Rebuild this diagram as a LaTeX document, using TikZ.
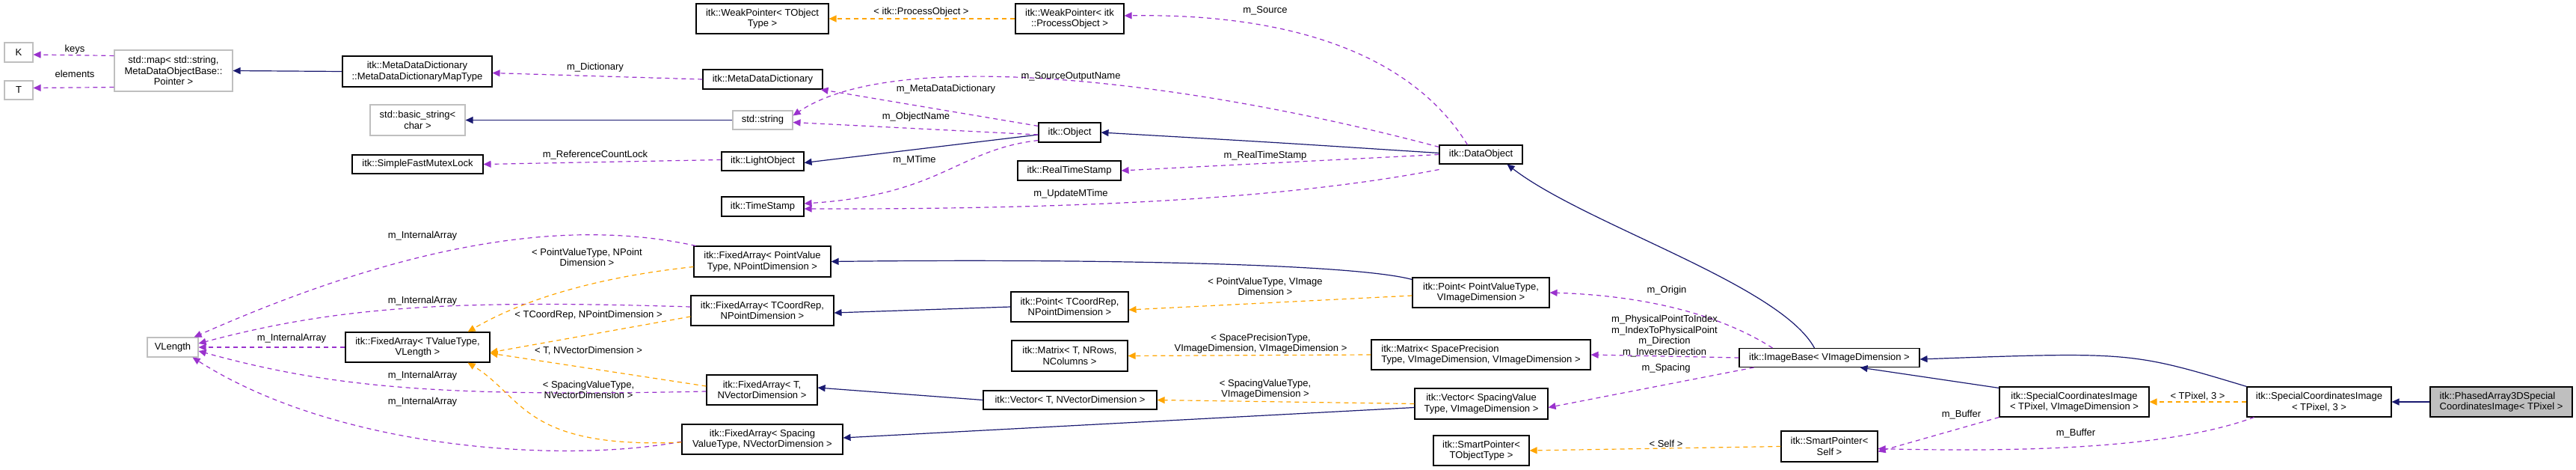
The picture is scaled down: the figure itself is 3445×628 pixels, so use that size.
\documentclass[tikz,border=0pt]{standalone}
\usepackage{fontspec}
\setmainfont{Liberation Sans}
\usetikzlibrary{arrows.meta}
\definecolor{inhc}{HTML}{191970}
\definecolor{usec}{HTML}{9A32CD}
\definecolor{tplc}{HTML}{FFA500}
\definecolor{grayb}{HTML}{BFBFBF}
\begin{document}
\begin{tikzpicture}[x=1pt,y=-1pt,
  every node/.style={font=\fontsize{13}{14.5}\selectfont},
  box/.style={draw=black,line width=1.1pt,fill=white,align=center,inner sep=1pt},
  gbox/.style={box,draw=grayb},
  inh/.style={draw=inhc,line width=1.2pt,-{Triangle[length=10pt,width=9pt]}},
  use/.style={draw=usec,line width=1.2pt,dashed,dash pattern=on 6pt off 5pt,-{Triangle[length=10pt,width=9pt]}},
  tpl/.style={draw=tplc,line width=1.2pt,dashed,dash pattern=on 6pt off 5pt,-{Triangle[length=10pt,width=9pt]}},
  lbl/.style={align=center,inner sep=0pt}]
\useasboundingbox (0,0) rectangle (3445,628);
% nodes
\node[gbox,minimum width=38,minimum height=26] (K) at (25,70) {K};
\node[gbox,minimum width=158,minimum height=55] (map) at (232,94.5) {std::map< std::string,\\MetaDataObjectBase::\\Pointer >};
\node[gbox,minimum width=38,minimum height=25] (T) at (25,120.5) {T};
\node[box,minimum width=200,minimum height=41] (mapt) at (558,95.5) {itk::MetaDataDictionary\\::MetaDataDictionaryMapType};
\node[box,minimum width=177,minimum height=40] (wpt) at (1019.5,25) {itk::WeakPointer< TObject\\Type >};
\node[box,minimum width=145,minimum height=40] (wpp) at (1430.5,25) {itk::WeakPointer< itk\\::ProcessObject >};
\node[box,minimum width=160,minimum height=26] (mdd) at (1020,106) {itk::MetaDataDictionary};
\node[gbox,minimum width=127,minimum height=41] (bstr) at (558.5,160.5) {std::basic\_string<\\char >};
\node[gbox,minimum width=80,minimum height=25] (sstr) at (1020,160.5) {std::string};
\node[box,minimum width=175,minimum height=25] (sfml) at (558.5,219.5) {itk::SimpleFastMutexLock};
\node[box,minimum width=110,minimum height=25] (lobj) at (1020,215.5) {itk::LightObject};
\node[box,minimum width=110,minimum height=26] (ts) at (1020,276) {itk::TimeStamp};
\node[box,minimum width=83,minimum height=26] (obj) at (1430.5,177) {itk::Object};
\node[box,minimum width=138,minimum height=26] (rts) at (1430,228) {itk::RealTimeStamp};
\node[box,minimum width=111,minimum height=25] (dobj) at (1980.5,206.5) {itk::DataObject};
\node[gbox,minimum width=68,minimum height=26] (vlen) at (231,464) {VLength};
\node[box,minimum width=193,minimum height=40] (fatv) at (558.5,464) {itk::FixedArray< TValueType,\\VLength >};
\node[box,minimum width=183,minimum height=41] (fapv) at (1019.5,349.5) {itk::FixedArray< PointValue\\Type, NPointDimension >};
\node[box,minimum width=191,minimum height=40] (fatc) at (1019.5,415) {itk::FixedArray< TCoordRep,\\NPointDimension >};
\node[box,minimum width=148,minimum height=40] (fatn) at (1019,521) {itk::FixedArray< T,\\NVectorDimension >};
\node[box,minimum width=215,minimum height=40] (fasv) at (1019.5,587) {itk::FixedArray< Spacing\\ValueType, NVectorDimension >};
\node[box,minimum width=157,minimum height=40] (ptc) at (1430.5,410) {itk::Point< TCoordRep,\\NPointDimension >};
\node[box,minimum width=155,minimum height=41] (mtx) at (1430.5,475.5) {itk::Matrix< T, NRows,\\NColumns >};
\node[box,minimum width=232,minimum height=25] (vtn) at (1431,534.5) {itk::Vector< T, NVectorDimension >};
\node[box,minimum width=183,minimum height=40] (ppv) at (1980.5,391) {itk::Point< PointValueType,\\VImageDimension >};
\node[box,minimum width=293,minimum height=40,align=left] (mspc) at (1980.5,474) {itk::Matrix< SpacePrecision\\Type, VImageDimension, VImageDimension >};
\node[box,minimum width=178,minimum height=41] (vsv) at (1981,539.5) {itk::Vector< SpacingValue\\Type, VImageDimension >};
\node[box,minimum width=128,minimum height=40] (spt) at (1981,602) {itk::SmartPointer<\\TObjectType >};
\node[box,minimum width=241,minimum height=25] (ib) at (2446.5,478) {itk::ImageBase< VImageDimension >};
\node[box,minimum width=129,minimum height=41] (sps) at (2446.5,596.5) {itk::SmartPointer<\\Self >};
\node[box,minimum width=200,minimum height=40] (sciv) at (2774,537) {itk::SpecialCoordinatesImage\\< TPixel, VImageDimension >};
\node[box,minimum width=193,minimum height=40] (sci3) at (3101.5,537) {itk::SpecialCoordinatesImage\\< TPixel, 3 >};
\node[box,fill=grayb,minimum width=190,minimum height=40,align=left] (pha) at (3345,537) {itk::PhasedArray3DSpecial\\CoordinatesImage< TPixel >};
% inheritance
\draw[inh] (mapt.west) -- (map.east);
\draw[inh] (sstr.west) -- (bstr.east);
\draw[inh] ([yshift=-3]obj.west) -- ([yshift=-2]lobj.east);
\draw[inh] ([yshift=2]dobj.west) .. controls (1700,190) .. (obj.east);
\draw[inh] ([xshift=-20]ib.north) .. controls (2380,380) and (2120,300) .. ([xshift=35]dobj.south);
\draw[inh] ([yshift=-3]ppv.north west) .. controls (1800,350) and (1400,346) .. (fapv.east);
\draw[inh] (ptc.west) -- ([yshift=-3]fatc.east);
\draw[inh] (vtn.west) -- ([yshift=3]fatn.east);
\draw[inh] ([yshift=-5]vsv.west) -- ([yshift=2]fasv.east);
\draw[inh] ([yshift=-2]sciv.north west) -- ([xshift=-80]ib.south east);
\draw[inh] (sci3.north west) .. controls (2850,470) .. ([yshift=-2]ib.east);
\draw[inh] (pha.west) -- (sci3.east);
% usage
\draw[use] ([yshift=-8]map.north west) -- ([yshift=-3]K.east);
\draw[use] ([yshift=6]map.south west) -- ([yshift=3]T.east);
\node[lbl] at (100,66) {keys};
\node[lbl] at (100,99) {elements};
\draw[use] (mdd.west) -- ([yshift=-2]mapt.east);
\node[lbl] at (796,90) {m\_Dictionary};
\draw[use] ([yshift=2]lobj.west) -- (sfml.east);
\node[lbl] at (796,207) {m\_ReferenceCountLock};
\draw[use] ([yshift=-5]obj.north west) -- ([xshift=-3]mdd.south east);
\node[lbl] at (1265,119) {m\_MetaDataDictionary};
\draw[use] ([yshift=-3]obj.west) -- ([yshift=-3]sstr.east);
\node[lbl] at (1225,156) {m\_ObjectName};
\draw[use] ([yshift=-3]dobj.north west) .. controls (1600,110) and (1200,60) .. ([yshift=6]sstr.east);
\node[lbl] at (1432,102) {m\_SourceOutputName};
\draw[use] ([yshift=3]obj.south west) .. controls (1280,200) and (1260,260) .. ([yshift=4]ts.east);
\node[lbl] at (1223,214) {m\_MTime};
\draw[use] ([yshift=-7]dobj.south west) .. controls (1750,260) and (1500,280) .. ([yshift=-3]ts.east);
\node[lbl] at (1432,259) {m\_UpdateMTime};
\draw[use] (dobj.west) -- (rts.east);
\node[lbl] at (1692,208) {m\_RealTimeStamp};
\draw[use] ([xshift=-18]dobj.north) .. controls (1880,60) and (1700,18) .. ([yshift=4]wpp.east);
\node[lbl] at (1692,14) {m\_Source};
\draw[use] (fatv.west) -- (vlen.east);
\node[lbl] at (390,452) {m\_InternalArray};
\draw[use] ([xshift=3]fapv.north west) .. controls (800,300) and (600,300) .. ([xshift=-6]vlen.north east);
\node[lbl] at (565,315) {m\_InternalArray};
\draw[use] ([yshift=5]fatc.west) .. controls (600,400) and (450,410) .. ([yshift=5]vlen.east);
\node[lbl] at (565,402) {m\_InternalArray};
\draw[use] ([yshift=-2]fatn.west) .. controls (600,530) and (450,520) .. ([yshift=-5]vlen.east);
\node[lbl] at (565,502) {m\_InternalArray};
\draw[use] ([yshift=-3]fasv.west) .. controls (750,620) and (450,600) .. ([xshift=-8]vlen.south east);
\node[lbl] at (565,537) {m\_InternalArray};
\draw[use] ([xshift=45]ib.north west) .. controls (2300,420) and (2200,395) .. (ppv.east);
\node[lbl] at (2229,388) {m\_Origin};
\draw[use] (ib.west) -- (mspc.east);
\node[lbl] at (2226,449) {m\_PhysicalPointToIndex\\m\_IndexToPhysicalPoint\\m\_Direction\\m\_InverseDirection};
\draw[use] ([xshift=20]ib.south west) -- ([yshift=-5]vsv.east);
\node[lbl] at (2228,492) {m\_Spacing};
\draw[use] (sciv.south west) -- ([yshift=-7]sps.east);
\node[lbl] at (2623,554) {m\_Buffer};
\draw[use] ([xshift=10]sci3.south west) .. controls (2900,600) and (2700,604) .. ([yshift=-3]sps.east);
\node[lbl] at (2776,579) {m\_Buffer};
% template
\draw[tpl] (wpp.west) -- (wpt.east);
\node[lbl] at (1232,16) {< itk::ProcessObject >};
\draw[tpl] ([yshift=-7]fapv.west) .. controls (800,370) and (700,400) .. ([xshift=-30]fatv.north east);
\node[lbl] at (785,344) {< PointValueType, NPoint\\Dimension >};
\draw[tpl] ([yshift=-8]fatc.west) -- ([yshift=-7]fatv.east);
\node[lbl] at (787,421) {< TCoordRep, NPointDimension >};
\draw[tpl] ([yshift=5]fatn.west) -- ([yshift=-8]fatv.east);
\node[lbl] at (787,469) {< T, NVectorDimension >};
\draw[tpl] ([yshift=-4]fasv.west) .. controls (700,600) and (700,530) .. ([xshift=-30]fatv.south east);
\node[lbl] at (787,521) {< SpacingValueType,\\NVectorDimension >};
\draw[tpl] ([yshift=-4]ppv.west) -- ([yshift=-4]ptc.east);
\node[lbl] at (1692,383) {< PointValueType, VImage\\Dimension >};
\draw[tpl] (mspc.west) -- (mtx.east);
\node[lbl] at (1686,459) {< SpacePrecisionType,\\VImageDimension, VImageDimension >};
\draw[tpl] (vsv.west) -- (vtn.east);
\node[lbl] at (1692,520) {< SpacingValueType,\\VImageDimension >};
\draw[tpl] (sps.west) -- (spt.east);
\node[lbl] at (2228,593) {< Self >};
\draw[tpl] (sci3.west) -- (sciv.east);
\node[lbl] at (2939,530) {< TPixel, 3 >};
\end{tikzpicture}
\end{document}
